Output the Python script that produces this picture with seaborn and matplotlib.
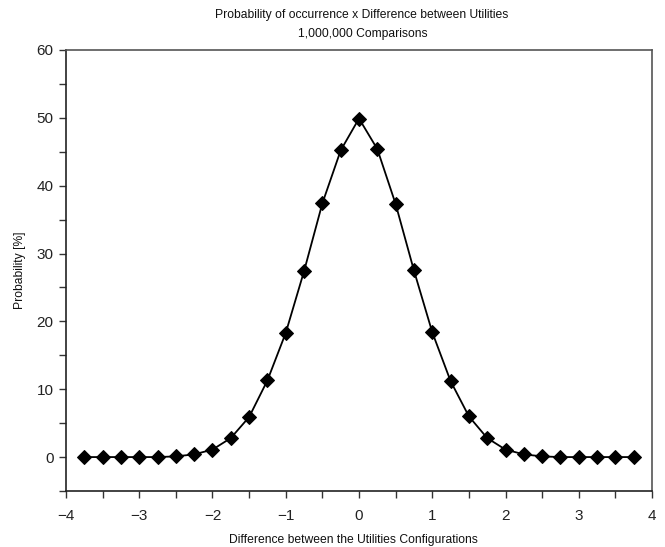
import matplotlib
matplotlib.use("Agg")
import matplotlib.pyplot as plt
import seaborn as sns
import pandas as pd
from matplotlib.ticker import MultipleLocator

x_vals = [-3.75, -3.5, -3.25, -3.0, -2.75, -2.5, -2.25, -2.0, -1.75, -1.5, -1.25, -1.0,
          -0.75, -0.5, -0.25, 0.0, 0.25, 0.5, 0.75, 1.0, 1.25, 1.5, 1.75, 2.0, 2.25, 2.5,
          2.75, 3.0, 3.25, 3.5, 3.75]
prob_vals = [0.0, 0.0, 0.0, 0.0, 0.0, 0.1, 0.4, 1.1, 2.8, 5.9, 11.3, 18.3,
             27.4, 37.4, 45.2, 49.9, 45.4, 37.3, 27.5, 18.4, 11.2, 6.0, 2.8, 1.1, 0.4, 0.1,
             0.0, 0.0, 0.0, 0.0, 0.0]

df = pd.DataFrame({"x": x_vals, "p": prob_vals})

sns.set_style("ticks")
plt.rcParams['font.family'] = ['Liberation Sans', 'DejaVu Sans']

fig = plt.figure(figsize=(6.65, 5.47), dpi=100)
ax = fig.add_axes([0.0992, 0.1024, 0.8813, 0.8062])

sns.lineplot(data=df, x="x", y="p", ax=ax, color="black", linewidth=1.3,
             marker="D", markersize=7, markeredgecolor="black", markerfacecolor="black")

ax.set_xlim(-4, 4)
ax.set_ylim(-5, 60)
ax.xaxis.set_major_locator(MultipleLocator(1))
ax.xaxis.set_minor_locator(MultipleLocator(0.5))
ax.yaxis.set_major_locator(MultipleLocator(10))
ax.yaxis.set_minor_locator(MultipleLocator(5))
ax.tick_params(which="major", direction="out", length=5, width=1, labelsize=11, colors="#333333", labelcolor="#222222")
ax.tick_params(axis="x", which="major", pad=8)
ax.tick_params(axis="y", which="major", pad=4)
ax.tick_params(which="minor", direction="out", length=5, width=1, colors="#333333")
for s in ax.spines.values():
    s.set_color("#555555")
    s.set_linewidth(1.2)
ax.spines['left'].set_color("#222222")
ax.spines['bottom'].set_color("#222222")

ax.set_xlabel("")
ax.set_ylabel("")
fig.text(353 / 665, 1 - 540 / 547, "Difference between the Utilities Configurations",
         ha="center", va="center", fontsize=8.7, color="#111111")
fig.text(20 / 665, 1 - 270 / 547, "Probability [%]", rotation=90,
         ha="center", va="center", fontsize=8.7, color="#111111")

fig.text(362 / 665, 1 - 15 / 547, "Probability of occurrence x Difference between Utilities", ha="center", va="center", fontsize=8.7, color="#111111")
fig.text(363 / 665, 1 - 34 / 547, "1,000,000 Comparisons", ha="center", va="center", fontsize=8.7, color="#111111")

fig.savefig("out.png", dpi=100)
